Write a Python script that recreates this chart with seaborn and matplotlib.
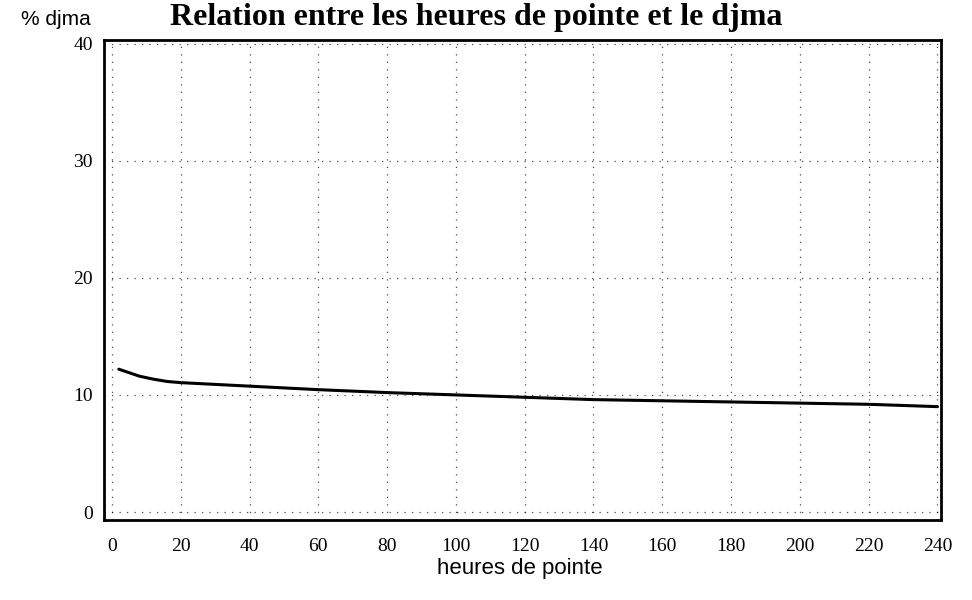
import matplotlib
matplotlib.use("Agg")
import matplotlib.pyplot as plt
import seaborn as sns
import pandas as pd

hours = [2, 5, 8, 12, 16, 20, 30, 40, 60, 80, 100, 120, 140, 160, 180, 200, 220, 240]
pct_djma = [12.2, 11.9, 11.6, 11.35, 11.15, 11.05, 10.9, 10.75, 10.45, 10.2, 10.0, 9.8, 9.6, 9.5, 9.4, 9.3, 9.2, 9.0]
xticks = list(range(0, 241, 20))
yticks = [0, 10, 20, 30, 40]

df = pd.DataFrame({"heures": hours, "pct": pct_djma})

sns.set_style("white")
plt.rcParams['font.family'] = ['Liberation Serif', 'DejaVu Serif']
plt.rcParams['text.color'] = 'black'
plt.rcParams['xtick.color'] = 'black'
plt.rcParams['ytick.color'] = 'black'

fig = plt.figure(figsize=(9.72, 6), dpi=100)
ax = fig.add_axes([0.107, 0.133, 0.861, 0.8])
sns.lineplot(data=df, x="heures", y="pct", ax=ax, color="black", linewidth=2.2)

ax.set_xlim(-2.3, 241)
ax.set_ylim(-0.7, 40.3)
ax.set_xticks(xticks)
ax.set_yticks(yticks)
ax.set_xticklabels([str(t) for t in xticks], fontsize=14)
ax.set_yticklabels([str(t) for t in yticks], fontsize=14)
ax.grid(True, linestyle=(0, (1, 5)), color="black", linewidth=0.9, alpha=0.7)
ax.tick_params(axis='x', length=4, direction='out', pad=9, colors='black')
ax.tick_params(axis='y', length=0, pad=8, colors='black')
for s in ax.spines.values():
    s.set_color("black")
    s.set_linewidth(2)
ax.set_xlabel("")
ax.set_ylabel("")

fig.text(0.49, 1 - 25/600, "Relation entre les heures de pointe et le djma",
         ha="center", va="baseline", fontsize=23, fontweight="bold", color="black")
fig.text(0.022, 1 - 25/600, "% djma", ha="left", va="baseline", fontsize=15, color="black",
         family=['Liberation Sans Narrow', 'Liberation Sans', 'DejaVu Sans'])
fig.text(0.535, 1 - 574/600, "heures de pointe", ha="center", va="baseline", fontsize=16, color="black",
         family=['Liberation Sans Narrow', 'Liberation Sans', 'DejaVu Sans'])

fig.savefig("out.png", dpi=100)
